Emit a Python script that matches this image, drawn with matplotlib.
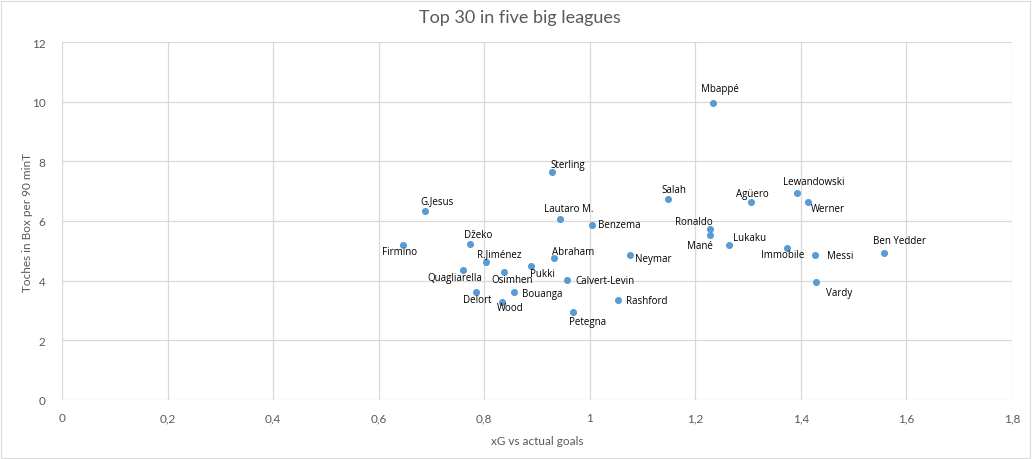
import matplotlib
matplotlib.use("Agg")
import matplotlib.pyplot as plt
from matplotlib.patches import Rectangle

# ---- data ----
players = ["Mbappé", "Sterling", "Salah", "Agüero", "Lewandowski", "Werner", "G.Jesus",
           "Lautaro M.", "Benzema", "Ronaldo", "Mané", "Lukaku", "Immobile", "Messi",
           "Ben Yedder", "Vardy", "Firmino", "Džeko", "R.Jiménez", "Abraham", "Neymar",
           "Pukki", "Quagliarella", "Osimhen", "Calvert-Levin", "Bouanga", "Delort",
           "Wood", "Rashford", "Petegna"]
xg_ratio = [1.234, 0.929, 1.149, 1.306, 1.393, 1.414, 0.688,
            0.944, 1.005, 1.227, 1.228, 1.263, 1.374, 1.427,
            1.558, 1.429, 0.646, 0.773, 0.804, 0.933, 1.077,
            0.889, 0.760, 0.838, 0.957, 0.857, 0.785,
            0.834, 1.054, 0.969]
touches = [9.96, 7.64, 6.74, 6.64, 6.94, 6.64, 6.34,
           6.07, 5.87, 5.73, 5.53, 5.20, 5.10, 4.86,
           4.93, 3.96, 5.20, 5.23, 4.63, 4.76, 4.86,
           4.49, 4.36, 4.29, 4.02, 3.62, 3.62,
           3.29, 3.35, 2.95]
x_ticks = [0, 0.2, 0.4, 0.6, 0.8, 1.0, 1.2, 1.4, 1.6, 1.8]
x_tick_labels = ["0", "0,2", "0,4", "0,6", "0,8", "1", "1,2", "1,4", "1,6", "1,8"]
y_ticks = [0, 2, 4, 6, 8, 10, 12]

# ---- label placement (offsets in pixels: dx, dy(down positive), ha) ----
label_offsets = {
    "Mbappé": (7, -14, "center"), "Sterling": (15, -8, "center"),
    "Salah": (5, -9, "center"), "Agüero": (1, -8, "center"),
    "Lewandowski": (17, -11, "center"), "Werner": (20, 7, "center"),
    "G.Jesus": (12, -10, "center"), "Lautaro M.": (9, -10, "center"),
    "Benzema": (6, 0, "left"), "Ronaldo": (-16, -8, "center"),
    "Mané": (-10, 10, "center"), "Lukaku": (21, -7, "center"),
    "Immobile": (-4, 7, "center"), "Messi": (25, 0, "center"),
    "Ben Yedder": (15, -12, "center"), "Vardy": (23, 11, "center"),
    "Firmino": (-3, 7, "center"), "Džeko": (8, -9, "center"),
    "R.Jiménez": (13, -8, "center"), "Abraham": (19, -6, "center"),
    "Neymar": (5, 3, "left"), "Pukki": (11, 7, "center"),
    "Quagliarella": (-8, 8, "center"), "Osimhen": (8, 7, "center"),
    "Calvert-Levin": (8, 0, "left"), "Bouanga": (8, 1, "left"),
    "Delort": (1, 7, "center"), "Wood": (8, 6, "center"),
    "Rashford": (8, 0, "left"), "Petegna": (14, 10, "center"),
}

W, H, DPI = 1032, 460, 100
fig = plt.figure(figsize=(W / DPI, H / DPI), dpi=DPI)
L, R, T, B = 62, 1012, 43, 401
ax = fig.add_axes([L / W, 1 - B / H, (R - L) / W, (B - T) / H])

# chart-area border
fig.patches.append(Rectangle((1 / W, 1 / H), (W - 3) / W, (H - 3) / H,
                             transform=fig.transFigure, fill=False,
                             edgecolor="#d9d9d9", linewidth=0.8))

ax.set_xlim(0, 1.8)
ax.set_ylim(0, 12)
ax.set_xticks(x_ticks)
ax.set_xticklabels(x_tick_labels)
ax.set_yticks(y_ticks)
ax.grid(True, color="#d9d9d9", linewidth=0.9)
ax.set_axisbelow(True)
for s in ax.spines.values():
    s.set_visible(False)
ax.tick_params(length=0, colors="#595959", labelsize=8.5)
ax.tick_params(axis="x", pad=9)
ax.tick_params(axis="y", pad=12)
for lab in ax.get_xticklabels() + ax.get_yticklabels():
    lab.set_fontfamily("Lato")

ax.scatter(xg_ratio, touches, s=26, color="#5B9BD5", zorder=3, linewidths=0)

for name, x, y in zip(players, xg_ratio, touches):
    dx, dy, ha = label_offsets[name]
    ax.annotate(name, (x, y), xytext=(dx * 0.72, -dy * 0.72), textcoords="offset points",
                ha=ha, va="center", fontsize=7, family="Open Sans", color="#000000",
                zorder=4)

ax.set_xlabel("xG vs actual goals", family="Lato", fontsize=8.5, color="#595959", labelpad=8)
ax.set_ylabel("Toches in Box per 90 minT", family="Lato", fontsize=8.5, color="#595959")
ax.yaxis.set_label_coords((33 - L) / (R - L), 0.5)
fig.text(520 / W, 1 - 18 / H, "Top 30 in five big leagues", ha="center", va="center",
         family="Lato", fontweight="normal", fontsize=13, color="#595959")

fig.savefig("out.png", dpi=DPI)
